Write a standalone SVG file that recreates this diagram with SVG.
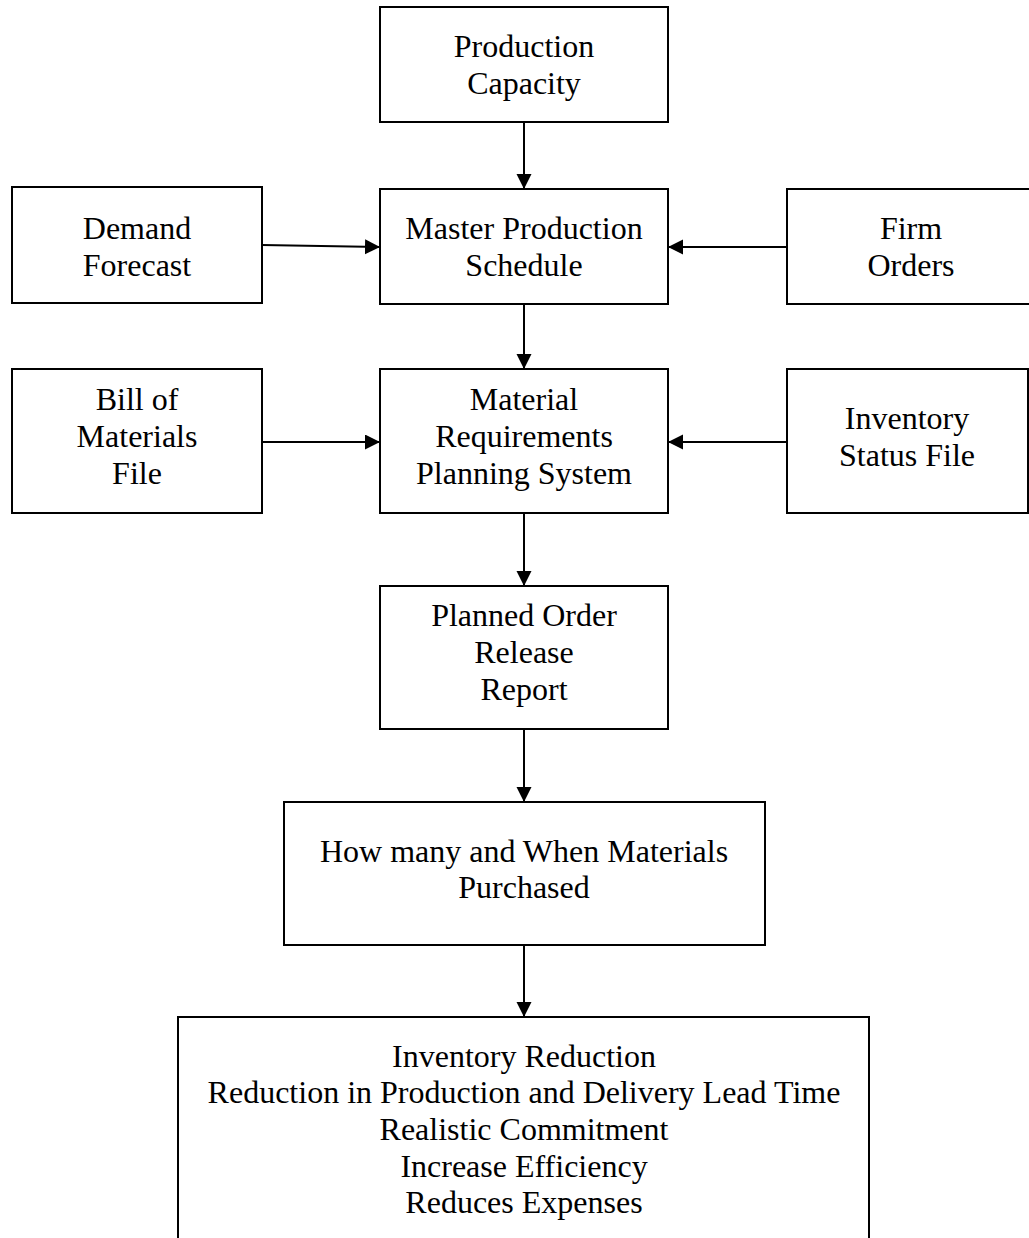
<svg xmlns="http://www.w3.org/2000/svg" width="1029" height="1238" viewBox="0 0 1029 1238">
<style>
.box{fill:#fff;stroke:#000;stroke-width:2}
.lbl{font-family:"Liberation Serif","Times New Roman",serif;font-size:32px;fill:#000;text-anchor:middle}
.con{stroke:#000;stroke-width:2;fill:none;marker-end:url(#ah)}
</style>
<defs>
<marker id="ah" markerUnits="userSpaceOnUse" markerWidth="16" markerHeight="16" refX="15" refY="7.5" orient="auto">
<path d="M0,0 L15,7.5 L0,15 z" fill="#000"/>
</marker>
</defs>
<rect width="1029" height="1238" fill="#fff"/>
<g id="connectors">
<line class="con" x1="524" y1="122" x2="524" y2="189"/>
<line class="con" x1="524" y1="304" x2="524" y2="369"/>
<line class="con" x1="524" y1="513" x2="524" y2="586"/>
<line class="con" x1="524" y1="729" x2="524" y2="802"/>
<line class="con" x1="524" y1="945" x2="524" y2="1017"/>
<line class="con" x1="262" y1="245" x2="380" y2="247"/>
<line class="con" x1="787" y1="247" x2="668" y2="247"/>
<line class="con" x1="262" y1="442" x2="380" y2="442"/>
<line class="con" x1="787" y1="442" x2="668" y2="442"/>
</g>
<g id="production-capacity">
<rect class="box" x="380" y="7" width="288" height="115"/>
<text class="lbl" x="524" y="57">Production</text>
<text class="lbl" x="524" y="94">Capacity</text>
</g>
<g id="master-production-schedule">
<rect class="box" x="380" y="189" width="288" height="115"/>
<text class="lbl" x="524" y="239">Master Production</text>
<text class="lbl" x="524" y="276">Schedule</text>
</g>
<g id="demand-forecast">
<rect class="box" x="12" y="187" width="250" height="116"/>
<text class="lbl" x="137" y="239">Demand</text>
<text class="lbl" x="137" y="276">Forecast</text>
</g>
<g id="firm-orders">
<rect class="box" x="787" y="189" width="250" height="115"/>
<text class="lbl" x="911" y="239">Firm</text>
<text class="lbl" x="911" y="276">Orders</text>
</g>
<g id="bill-of-materials">
<rect class="box" x="12" y="369" width="250" height="144"/>
<text class="lbl" x="137" y="410">Bill of</text>
<text class="lbl" x="137" y="447">Materials</text>
<text class="lbl" x="137" y="484">File</text>
</g>
<g id="mrp-system">
<rect class="box" x="380" y="369" width="288" height="144"/>
<text class="lbl" x="524" y="410">Material</text>
<text class="lbl" x="524" y="447">Requirements</text>
<text class="lbl" x="524" y="484">Planning System</text>
</g>
<g id="inventory-status">
<rect class="box" x="787" y="369" width="241" height="144"/>
<text class="lbl" x="907" y="429">Inventory</text>
<text class="lbl" x="907" y="466">Status File</text>
</g>
<g id="planned-order">
<rect class="box" x="380" y="586" width="288" height="143"/>
<text class="lbl" x="524" y="626">Planned Order</text>
<text class="lbl" x="524" y="663">Release</text>
<text class="lbl" x="524" y="700">Report</text>
</g>
<g id="how-many">
<rect class="box" x="284" y="802" width="481" height="143"/>
<text class="lbl" x="524" y="862">How many and When Materials</text>
<text class="lbl" x="524" y="898">Purchased</text>
</g>
<g id="benefits">
<rect class="box" x="178" y="1017" width="691" height="240"/>
<text class="lbl" x="524" y="1067">Inventory Reduction</text>
<text class="lbl" x="524" y="1103">Reduction in Production and Delivery Lead Time</text>
<text class="lbl" x="524" y="1140">Realistic Commitment</text>
<text class="lbl" x="524" y="1177">Increase Efficiency</text>
<text class="lbl" x="524" y="1213">Reduces Expenses</text>
</g>
</svg>
